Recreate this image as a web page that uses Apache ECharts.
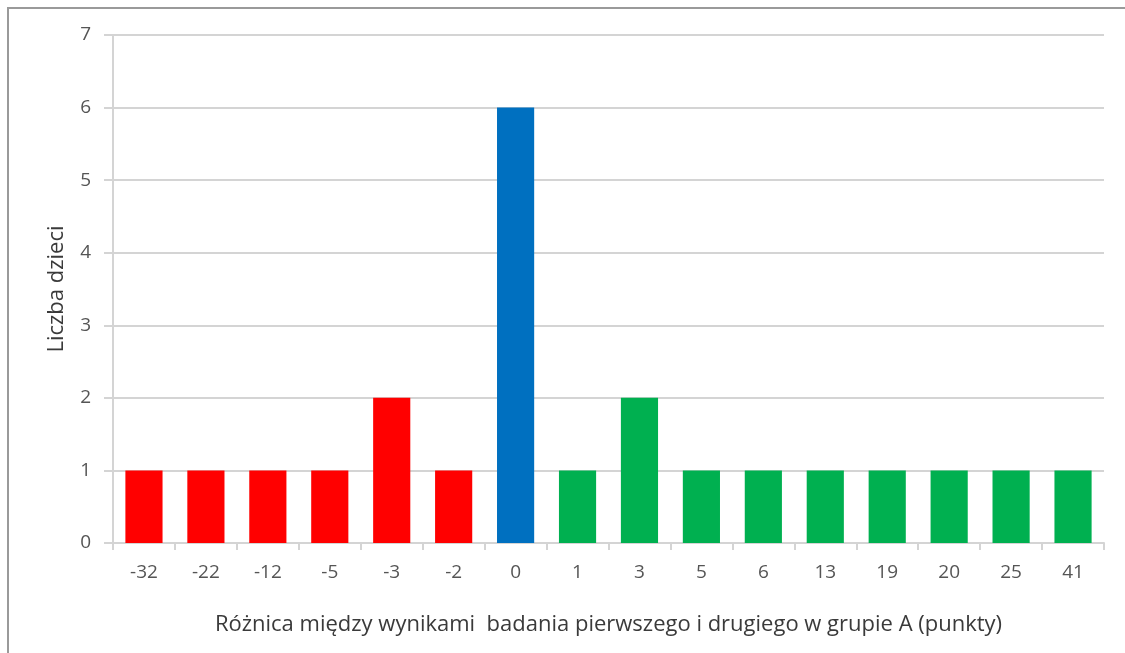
<!DOCTYPE html>
<html>
<head>
<meta charset="utf-8">
<script src="https://cdn.jsdelivr.net/npm/echarts@6/dist/echarts.min.js"></script>
<style>
  html, body { margin: 0; padding: 0; background: #ffffff; }
  #frame { position: absolute; left: 7px; top: 7px; width: 1130px; height: 660px;
           border-left: 2px solid #9a9a9a; border-top: 2px solid #9a9a9a; box-sizing: border-box; }
  #chart { position: absolute; left: 0; top: 0; width: 1125px; height: 653px; }
</style>
</head>
<body>
<div id="frame"></div>
<div id="chart"></div>
<script>
// Differences between first and second test scores (points), group A
const categories = ['-32', '-22', '-12', '-5', '-3', '-2', '0', '1', '3', '5', '6', '13', '19', '20', '25', '41'];
// Number of children for each difference
const counts = [1, 1, 1, 1, 2, 1, 6, 1, 2, 1, 1, 1, 1, 1, 1, 1];
const yTicks = [0, 1, 2, 3, 4, 5, 6, 7];

const RED = '#ff0000', BLUE = '#0070c0', GREEN = '#00b050';
function colorFor(label) {
  const v = Number(label);
  return v < 0 ? RED : (v === 0 ? BLUE : GREEN);
}

const chart = echarts.init(document.getElementById('chart'), null, { renderer: 'canvas' });
const font = '"Open Sans", Lato, sans-serif';

chart.setOption({
  backgroundColor: 'transparent',
  animation: false,
  grid: { left: 113, right: 21, top: 35, bottom: 110, containLabel: false },
  xAxis: {
    type: 'category',
    data: categories,
    axisLine: { show: true, lineStyle: { color: '#d4d4d4', width: 2 } },
    axisTick: { show: true, alignWithLabel: false, length: 7, lineStyle: { color: '#d4d4d4', width: 2 } },
    axisLabel: { color: '#555', fontSize: 19, fontFamily: font, margin: 20 },
    name: 'Różnica między wynikami  badania pierwszego i drugiego w grupie A (punkty)',
    nameLocation: 'middle',
    nameGap: 71,
    nameTextStyle: { color: '#3a3a3a', fontSize: 22, fontFamily: font }
  },
  yAxis: {
    type: 'value',
    min: yTicks[0],
    max: yTicks[yTicks.length - 1],
    interval: 1,
    axisLine: { show: true, lineStyle: { color: '#d4d4d4', width: 2 } },
    axisTick: { show: true, inside: false, length: 9, lineStyle: { color: '#d4d4d4', width: 2 } },
    splitLine: { show: true, lineStyle: { color: '#d4d4d4', width: 2 } },
    axisLabel: { color: '#555', fontSize: 19, fontFamily: font, margin: 22 },
    name: 'Liczba dzieci',
    nameLocation: 'middle',
    nameRotate: 90,
    nameGap: 45,
    nameTextStyle: { color: '#3a3a3a', fontSize: 22, fontFamily: font }
  },
  series: [{
    type: 'bar',
    data: counts.map((v, i) => ({ value: v, itemStyle: { color: colorFor(categories[i]) } })),
    barCategoryGap: '40%',
    z: 3
  }]
});
</script>
</body>
</html>
